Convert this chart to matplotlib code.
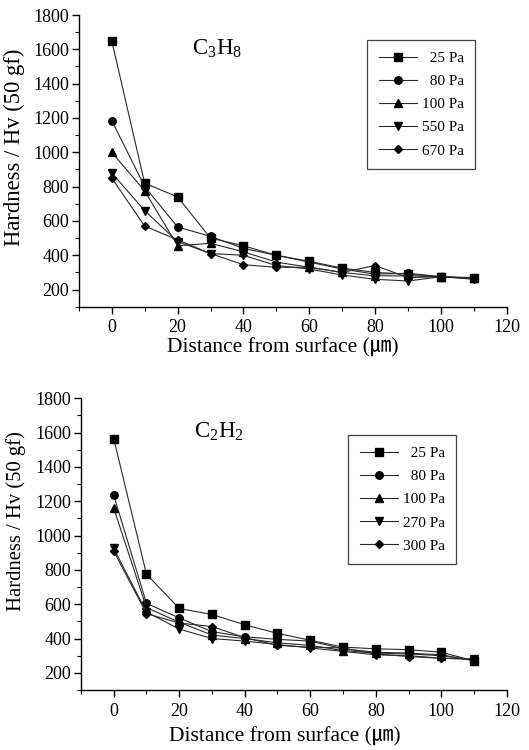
import matplotlib
matplotlib.use("Agg")
import matplotlib.pyplot as plt
from matplotlib.ticker import MultipleLocator

plt.rcParams['font.family'] = ['Liberation Serif', 'Noto Sans CJK JP']
plt.rcParams['mathtext.fontset'] = 'custom'
plt.rcParams['mathtext.rm'] = 'Liberation Serif'
plt.rcParams['mathtext.it'] = 'Liberation Serif:italic'

depth = [0, 10, 20, 30, 40, 50, 60, 70, 80, 90, 100, 110]

# C3H8 carburizing
c3h8_labels = ['  25 Pa', '  80 Pa', '100 Pa', '550 Pa', '670 Pa']
c3h8_25 = [1650, 820, 740, 500, 455, 400, 365, 325, 300, 290, 275, 270]
c3h8_80 = [1185, 800, 565, 510, 440, 400, 360, 320, 290, 295, 275, 265]
c3h8_100 = [1000, 775, 455, 470, 420, 360, 330, 300, 280, 280, 275, 265]
c3h8_550 = [880, 660, 480, 410, 400, 340, 320, 285, 260, 250, 275, 260]
c3h8_670 = [850, 570, 490, 410, 345, 330, 330, 300, 340, 270, 275, 265]

# C2H2 carburizing
c2h2_labels = ['  25 Pa', '  80 Pa', '100 Pa', '270 Pa', '300 Pa']
c2h2_25 = [1565, 775, 575, 540, 480, 430, 390, 350, 340, 335, 320, 270]
c2h2_80 = [1235, 605, 520, 440, 410, 395, 385, 340, 320, 315, 305, 270]
c2h2_100 = [1160, 580, 495, 420, 400, 375, 360, 330, 315, 310, 300, 275]
c2h2_270 = [925, 555, 455, 400, 385, 365, 345, 325, 305, 300, 285, 280]
c2h2_300 = [910, 545, 490, 470, 405, 360, 350, 345, 310, 295, 285, 280]

markers = ['s', 'o', '^', 'v', 'D']


def draw_panel(ax, series, labels, gas, legend_box, ylab_size, ylab_pos,
               xlab_pos):
    for vals, lab, mk in zip(series, labels, markers):
        ms = 4.4 if mk == 'D' else 5.4
        ax.plot(depth, vals, color='#2a2a2a', lw=0.8, marker=mk, ms=ms,
                mfc='black', mec='black', label=lab)

    ax.set_xlim(-10, 120)
    ax.set_ylim(100, 1800)
    ax.xaxis.set_major_locator(MultipleLocator(20))
    ax.xaxis.set_minor_locator(MultipleLocator(10))
    ax.yaxis.set_major_locator(MultipleLocator(200))
    ax.yaxis.set_minor_locator(MultipleLocator(100))
    ax.set_yticks(range(200, 1801, 200))
    for side in ('top', 'right'):
        ax.spines[side].set_visible(False)
    for side in ('left', 'bottom'):
        ax.spines[side].set_linewidth(1.0)
    ax.tick_params(which='major', direction='out', length=5, width=1,
                   labelsize=13, pad=2)
    ax.tick_params(axis='x', which='major', pad=4)
    ax.tick_params(which='minor', direction='out', length=3, width=0.8)

    ax.set_ylabel('Hardness / Hv (50 gf)', fontsize=ylab_size)
    ax.yaxis.set_label_coords(ylab_pos[0], ylab_pos[1])
    ax.set_xlabel('Distance from surface (\u339B)', fontsize=15.5)
    ax.xaxis.set_label_coords(xlab_pos[0], xlab_pos[1])

    ax.text(24.5, 1605, gas, fontsize=16.5, va='center', ha='left')

    leg = ax.legend(loc='upper left', bbox_to_anchor=legend_box,
                    fontsize=11, handlelength=2.5, handletextpad=0.3,
                    labelspacing=0.62, borderpad=0.75, fancybox=False,
                    edgecolor='#444444', framealpha=1, borderaxespad=0)
    leg.get_frame().set_linewidth(0.9)


fig = plt.figure(figsize=(5.29, 7.5), dpi=100)

ax1 = fig.add_axes([0.149, 0.591, 0.809, 0.389])
draw_panel(ax1, [c3h8_25, c3h8_80, c3h8_100, c3h8_550, c3h8_670],
           c3h8_labels, r'C$_3$H$_8$', (0.674, 0.915), 16.3,
           (-0.126, 0.545), (0.477, -0.108))

ax2 = fig.add_axes([0.153, 0.080, 0.805, 0.389])
draw_panel(ax2, [c2h2_25, c2h2_80, c2h2_100, c2h2_270, c2h2_300],
           c2h2_labels, r'C$_2$H$_2$', (0.628, 0.874), 14.9,
           (-0.130, 0.58), (0.479, -0.127))

fig.savefig('out.png', dpi=100)
